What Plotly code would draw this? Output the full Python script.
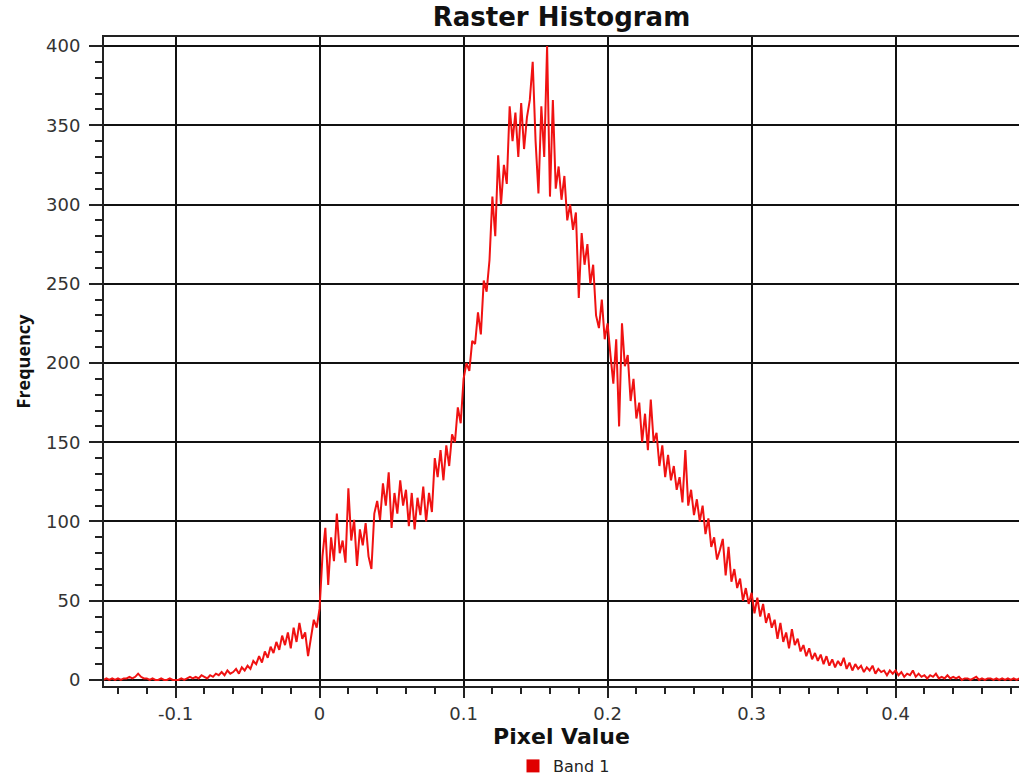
import plotly.graph_objects as go

# Histogram bins: start and width (pixel value), one count per bin
bin_start = -0.150
bin_width = 0.002

counts_a = [0, 1, 0, 1, 0, 1, 0, 1, 1, 2, 1, 2, 4, 2, 1, 1, 0, 1, 0, 0, 1, 0, 0, 1, 0, 0]
counts_b = [0, 1, 0, 1, 2, 1, 2, 1, 3, 2, 1, 3, 2, 4, 3, 5, 3, 6, 4, 5, 7, 4, 8, 6, 9]
counts_c = [7, 12, 10, 15, 11, 18, 14, 21, 17, 24, 19, 28, 22, 30, 20, 33, 24, 36, 26, 30, 15, 28, 38, 33]
counts_d = [45, 78, 96, 60, 90, 75, 105, 80, 88, 74, 121, 88, 101, 72, 95, 85, 99, 78, 70, 105, 113, 101, 124, 110, 131]
counts_e = [96, 118, 105, 126, 110, 120, 97, 118, 95, 115, 104, 122, 100, 118, 106, 140, 128, 145, 126, 148, 135, 155, 150, 172, 162]
counts_f = [190, 200, 195, 214, 212, 232, 218, 252, 245, 265, 305, 280, 331, 300, 325, 313, 362, 340, 358, 330, 364, 335, 355, 366, 390]
counts_g = [340, 307, 362, 330, 400, 305, 366, 310, 324, 303, 318, 290, 300, 284, 295, 241, 282, 262, 275, 250, 262, 230, 222, 240, 215]
counts_h = [225, 205, 187, 215, 160, 225, 198, 205, 176, 190, 165, 175, 150, 168, 145, 177, 150, 156, 135, 148, 128, 142, 126, 135, 120]
counts_i = [128, 112, 145, 110, 120, 104, 114, 100, 110, 92, 102, 84, 90, 76, 82, 89, 66, 84, 62, 70, 58, 64, 50, 58, 48]
counts_j = [55, 42, 52, 40, 48, 36, 42, 33, 38, 26, 36, 24, 30, 20, 32, 22, 26, 18, 22, 15, 20, 13, 17, 12, 16]
counts_k = [10, 15, 9, 13, 8, 12, 9, 14, 7, 11, 6, 10, 7, 9, 5, 8, 6, 9, 4, 7, 5, 6, 3, 6, 4]
counts_l = [6, 3, 5, 2, 4, 3, 6, 2, 4, 2, 3, 1, 3, 2, 4, 1, 2, 1, 3, 1, 2, 1, 2, 0, 1, 1, 0, 1, 2, 0,
            1, 0, 1, 1, 0, 1, 0, 1, 0, 1, 0, 1, 0, 1, 0]

counts = (counts_a + counts_b + counts_c + counts_d + counts_e + counts_f
          + counts_g + counts_h + counts_i + counts_j + counts_k + counts_l)
pixel_values = [round(bin_start + bin_width * i, 4) for i in range(len(counts))]

x_tick_values = [-0.1, 0, 0.1, 0.2, 0.3, 0.4]
x_tick_labels = ["-0.1", "0", "0.1", "0.2", "0.3", "0.4"]
y_tick_values = [0, 50, 100, 150, 200, 250, 300, 350, 400]
y_tick_labels = ["0", "50", "100", "150", "200", "250", "300", "350", "400"]

series_name = "Band 1"
title_text = "Raster Histogram"
x_title = "Pixel Value"
y_title = "Frequency"

RED = "#f01212"
WIDE = "DejaVu Sans"
NARROW = "Open Sans"

fig = go.Figure()
fig.add_trace(go.Scatter(
    x=pixel_values, y=counts, mode="lines",
    line=dict(color=RED, width=2),
    showlegend=False, name=series_name,
))
fig.add_trace(go.Scatter(
    x=[None], y=[None], mode="markers",
    marker=dict(symbol="square", size=13, color="#e00000"),
    name=series_name, showlegend=True,
))

fig.update_layout(
    width=1019, height=776,
    margin=dict(l=104, r=0, t=37, b=90, autoexpand=False),
    paper_bgcolor="white", plot_bgcolor="white",
    title=dict(text=title_text, x=0.5, xref="paper", xanchor="center",
               y=1 - 17 / 776, yref="container", yanchor="middle",
               font=dict(family=WIDE, size=26, color="#111", weight="bold")),
    legend=dict(orientation="h", xref="container", x=564 / 1019, xanchor="center",
                yref="container", y=(776 - 766) / 776, yanchor="middle",
                font=dict(family=WIDE, size=16, color="#222"),
                itemwidth=30, bgcolor="rgba(0,0,0,0)"),
    font=dict(family=WIDE, size=16, color="#333"),
)
fig.add_annotation(
    text=y_title, textangle=-90, showarrow=False,
    xref="paper", x=0, xanchor="center", xshift=-82,
    yref="paper", y=0.5, yanchor="middle",
    font=dict(family=NARROW, size=18, color="#111", weight="bold"),
)

fig.update_xaxes(
    range=[-0.1497, 0.4857], tickvals=x_tick_values, ticktext=x_tick_labels,
    automargin=False,
    showgrid=True, gridcolor="#111", gridwidth=1.8, zeroline=False,
    showline=True, linecolor="#222", linewidth=2, mirror=True,
    ticks="outside", ticklen=10, tickwidth=1.8, tickcolor="#222",
    tickfont=dict(family=WIDE, size=18, color="#333"),
    minor=dict(dtick=0.02, tick0=0, ticks="outside", ticklen=6, tickwidth=1.5,
               tickcolor="#222", showgrid=False),
    title=dict(text=x_title, standoff=3,
               font=dict(family=WIDE, size=22, color="#111", weight="bold")),
)
fig.update_yaxes(
    range=[-3.8, 405.7], tickvals=y_tick_values, ticktext=y_tick_labels,
    automargin=False,
    showgrid=True, gridcolor="#111", gridwidth=1.8, zeroline=False,
    showline=True, linecolor="#222", linewidth=2,
    ticks="outside", ticklen=13, tickwidth=1.8, tickcolor="#222",
    ticklabelstandoff=5,
    tickfont=dict(family=WIDE, size=18, color="#333"),
    minor=dict(dtick=10, tick0=0, ticks="outside", ticklen=7, tickwidth=1.5,
               tickcolor="#222", showgrid=False),
)

fig.write_html("out.html", config={"displayModeBar": False},
               post_script="document.body.style.margin='0';")
